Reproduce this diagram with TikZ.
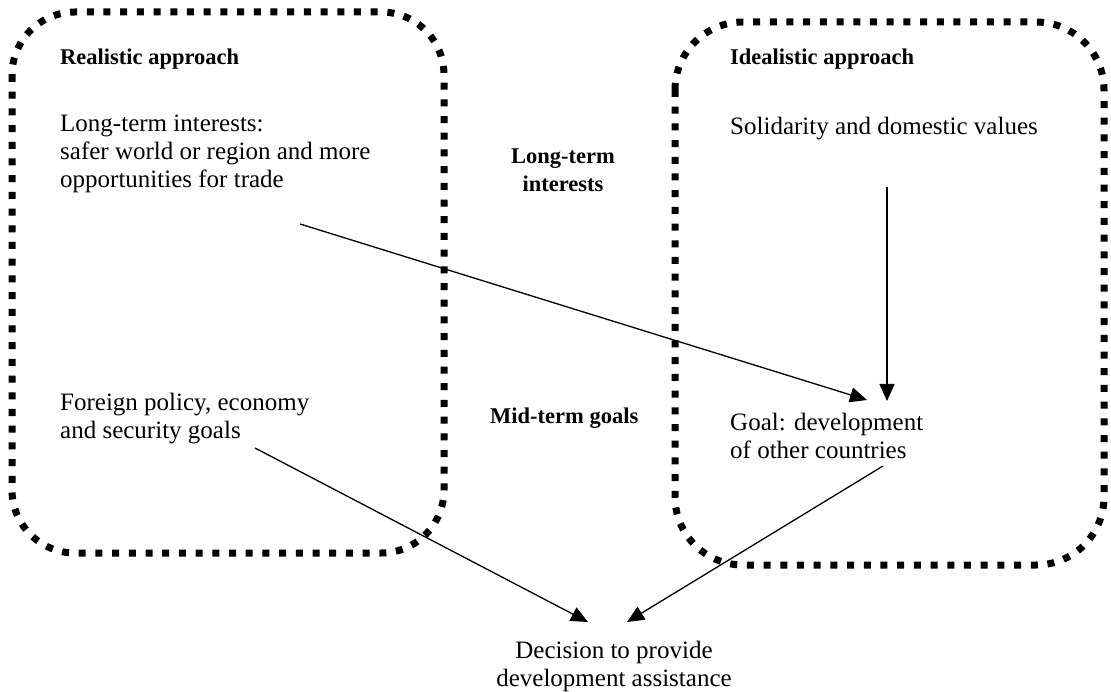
\documentclass[tikz,border=0pt]{standalone}
\usepackage{fontspec}
\setmainfont{Liberation Serif}
\usetikzlibrary{arrows.meta}
\begin{document}
\begin{tikzpicture}[x=1pt,y=-1pt,
  zone/.style={line width=7pt, dash pattern=on 7pt off 9.7pt, rounded corners=63pt},
  txt/.style={inner sep=0pt, anchor=base west, align=left, font=\fontsize{25}{28}\selectfont},
  head/.style={inner sep=0pt, anchor=base west, align=left, font=\fontsize{22.5}{28}\selectfont\bfseries},
  link/.style={line width=1.3pt, -{Triangle[length=17pt,width=15pt]}}
]
\useasboundingbox (0,0) rectangle (1111,692);
\draw[zone] (12,12) rectangle (444,553);
\draw[zone, rounded corners=68pt] (675,22) rectangle (1104,565);

\node[head] (real) at (60,65) {Realistic approach};
\node[txt] (lti) at (60,188) {Long-term interests:\\safer world or region and more\\opportunities for trade};
\node[txt] (fp) at (60,438) {Foreign policy, economy\\and security goals};
\node[head, align=center, anchor=base] (ltc) at (563,192) {Long-term\\interests};
\node[head] (mt) at (490,424) {Mid-term goals};
\node[head] (ideal) at (730,65) {Idealistic approach};
\node[txt] (sol) at (730,135) {Solidarity and domestic values};
\node[txt] (goal) at (730,458) {Goal: development\\of other countries};
\node[txt, align=center, anchor=base] (dec) at (614,686) {Decision to provide\\development assistance};

\coordinate (s1) at (300,224); \coordinate (t1) at (867,400);
\coordinate (s2) at (887,187); \coordinate (t2) at (887,401);
\coordinate (s3) at (255,448); \coordinate (t3) at (588,622);
\coordinate (s4) at (883,466); \coordinate (t4) at (627,622);
\draw[link] (s1) -- (t1);
\draw[link] (s2) -- (t2);
\draw[link] (s3) -- (t3);
\draw[link] (s4) -- (t4);
\end{tikzpicture}
\end{document}
